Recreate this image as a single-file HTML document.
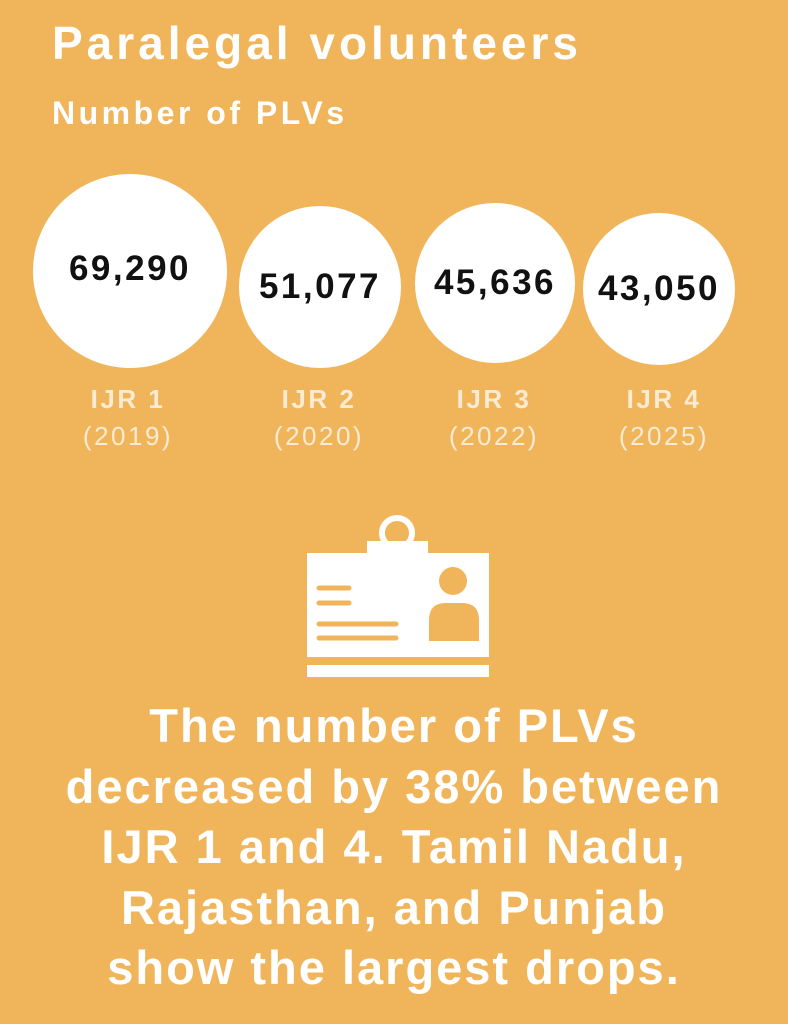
<!DOCTYPE html>
<html><head><style>
body{margin:0;width:788px;height:1024px;background:#F0B55B;position:relative;overflow:hidden;font-family:"Liberation Sans",sans-serif;color:#fff}
.t{position:absolute;white-space:nowrap}
.c{position:absolute;background:#fff;border-radius:50%;display:flex;align-items:center;justify-content:center;color:#111;font-weight:bold;font-size:35px;letter-spacing:2.5px}
.l{position:absolute;width:180px;text-align:center;font-size:26px;color:#FBEBD3;line-height:37px;letter-spacing:2.5px}
</style></head><body>
<div class="t" style="left:52px;top:16px;font-size:46px;font-weight:bold;letter-spacing:4px">Paralegal volunteers</div>
<div class="t" style="left:52px;top:95px;font-size:32px;font-weight:bold;letter-spacing:3.5px">Number of PLVs</div>
<div class="c" style="left:33px;top:174px;width:194px;height:194px"><span style="margin-top:-4px">69,290</span></div>
<div class="c" style="left:239px;top:206px;width:162px;height:162px">51,077</div>
<div class="c" style="left:415px;top:203px;width:160px;height:160px">45,636</div>
<div class="c" style="left:583px;top:213px;width:152px;height:152px">43,050</div>
<div class="l" style="left:38px;top:381px"><b>IJR 1</b><br>(2019)</div>
<div class="l" style="left:229px;top:381px"><b>IJR 2</b><br>(2020)</div>
<div class="l" style="left:404px;top:381px"><b>IJR 3</b><br>(2022)</div>
<div class="l" style="left:574px;top:381px"><b>IJR 4</b><br>(2025)</div>
<svg style="position:absolute;left:0;top:0" width="788" height="1024">
<circle cx="397" cy="533" r="15" fill="none" stroke="#fff" stroke-width="6"/>
<rect x="367" y="541" width="61" height="14" fill="#fff"/>
<rect x="307" y="553" width="182" height="104" fill="#fff"/>
<rect x="307" y="665" width="182" height="12" fill="#fff"/>
<g stroke="#F0B55B" stroke-width="5" stroke-linecap="round">
<line x1="319" y1="588" x2="349" y2="588"/><line x1="319" y1="603" x2="349" y2="603"/>
<line x1="319" y1="624" x2="396" y2="624"/><line x1="319" y1="638" x2="396" y2="638"/>
</g>
<circle cx="453" cy="581" r="14" fill="#F0B55B"/>
<path d="M429 641 V620 Q429 603 446 603 H462 Q479 603 479 620 V641 Z" fill="#F0B55B"/>
</svg>
<div class="t" style="left:0;width:788px;text-align:center;top:696px;font-size:47px;font-weight:bold;line-height:60.5px;letter-spacing:2px">The number of PLVs<br>decreased by 38% between<br>IJR 1 and 4. Tamil Nadu,<br>Rajasthan, and Punjab<br>show the largest drops.</div>
</body></html>
